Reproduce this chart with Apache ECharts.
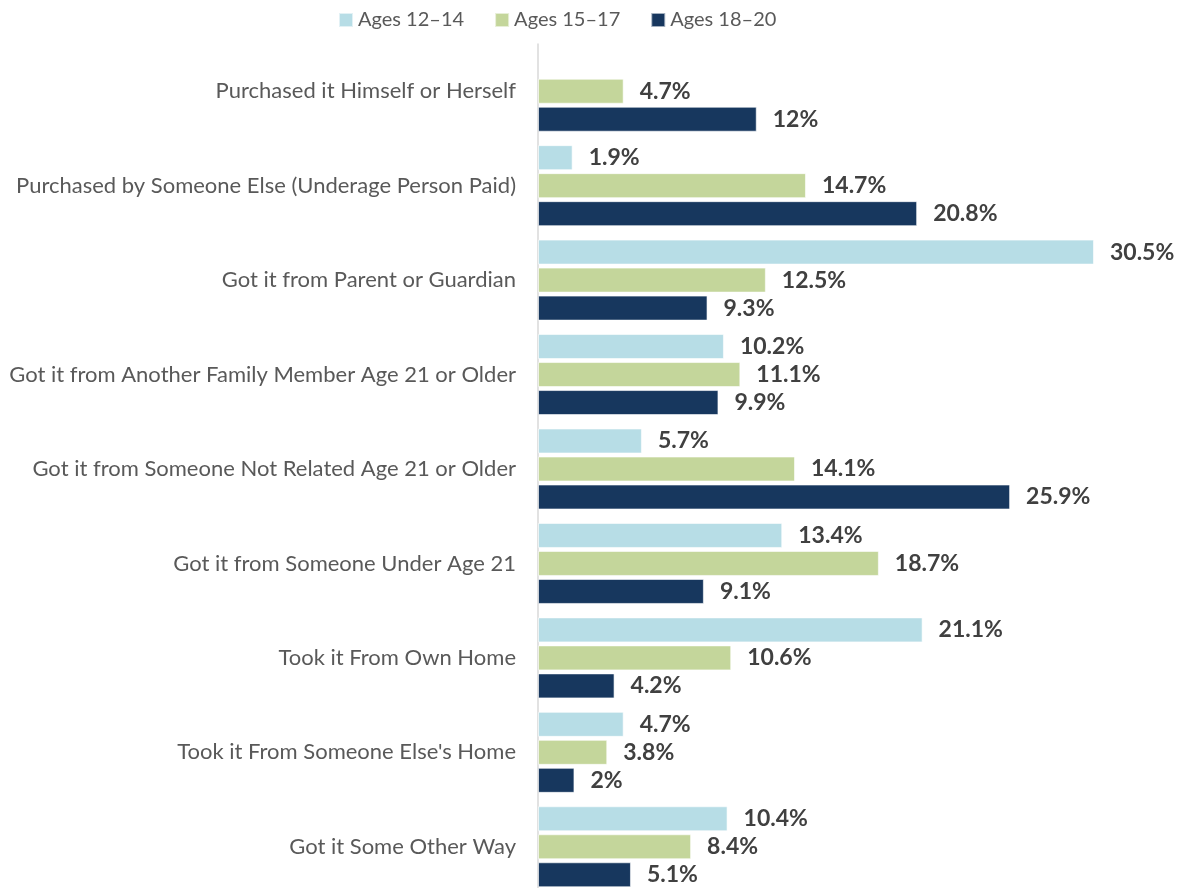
<!DOCTYPE html>
<html>
<head>
<meta charset="utf-8">
<script src="https://cdn.jsdelivr.net/npm/echarts@6/dist/echarts.min.js"></script>
<style>
	html, body { margin: 0; padding: 0; background: #fff; }
	#chart { width: 1183px; height: 888px; }
</style>
</head>
<body>
<div id="chart"></div>
<script>
	var categories = [
		'Purchased it Himself or Herself',
		'Purchased by Someone Else (Underage Person Paid)',
		'Got it from Parent or Guardian',
		'Got it from Another Family Member Age 21 or Older',
		'Got it from Someone Not Related Age 21 or Older',
		'Got it from Someone Under Age 21',
		'Took it From Own Home',
		'Took it From Someone Else\'s Home',
		'Got it Some Other Way'
	];
	var seriesNames = ['Ages 12\u201314', 'Ages 15\u201317', 'Ages 18\u201320'];
	var ages12to14 = [null, 1.9, 30.5, 10.2, 5.7, 13.4, 21.1, 4.7, 10.4];
	var ages15to17 = [4.7, 14.7, 12.5, 11.1, 14.1, 18.7, 10.6, 3.8, 8.4];
	var ages18to20 = [12, 20.8, 9.3, 9.9, 25.9, 9.1, 4.2, 2, 5.1];
	var colors = ['#b7dde6', '#c4d69b', '#17375e'];

	var font = 'Lato';
	var myChart = echarts.init(document.getElementById('chart'));

	function makeSeries(name, data, color) {
		return {
			name: name,
			type: 'bar',
			data: data,
			barWidth: 25,
			barGap: '12%',
			itemStyle: {
				color: color,
				borderColor: 'rgba(255,255,255,0.6)',
				borderWidth: 1
			},
			label: {
				show: true,
				position: 'right',
				distance: 16,
				fontFamily: font,
				fontWeight: 'bold',
				fontSize: 23,
				color: '#404040',
				formatter: function(p) {
					return p.value + '%';
				}
			}
		};
	}

	var options = {
		animation: false,
		legend: {
			top: 5,
			left: 333,
			itemWidth: 14,
			itemHeight: 14,
			itemGap: 30,
			icon: 'rect',
			textStyle: {
				fontFamily: font,
				fontSize: 20,
				color: '#595959'
			},
			data: seriesNames
		},
		grid: {
			left: 538,
			right: 7,
			top: 44,
			bottom: -6,
			outerBoundsMode: 'none',
			containLabel: false
		},
		xAxis: {
			type: 'value',
			min: 0,
			max: 35,
			show: false
		},
		yAxis: {
			type: 'category',
			inverse: true,
			data: categories,
			axisTick: { show: false },
			axisLine: {
				show: true,
				lineStyle: { color: '#d9d9d9', width: 1.5 }
			},
			axisLabel: {
				margin: 22,
				fontFamily: font,
				fontSize: 22,
				color: '#595959'
			},
			splitLine: { show: false }
		},
		series: [
			makeSeries(seriesNames[0], ages12to14, colors[0]),
			makeSeries(seriesNames[1], ages15to17, colors[1]),
			makeSeries(seriesNames[2], ages18to20, colors[2])
		]
	};
	myChart.setOption(options);
</script>
</body>
</html>
